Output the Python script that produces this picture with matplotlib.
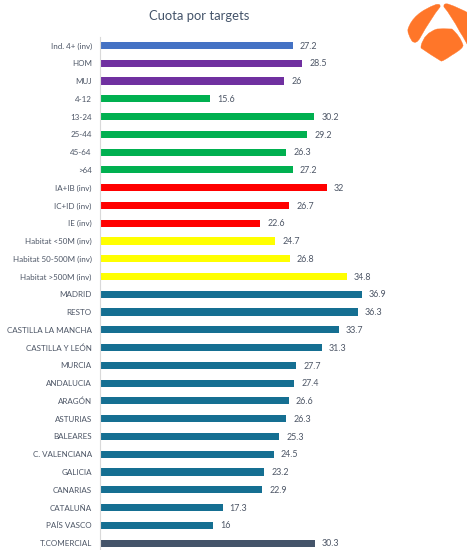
import matplotlib
matplotlib.use('Agg')
import matplotlib.pyplot as plt
from matplotlib.path import Path
from matplotlib.patches import PathPatch

plt.rcParams['font.family'] = ['Lato', 'DejaVu Sans']

labels = ['Ind. 4+ (inv)', 'HOM', 'MUJ', '4-12', '13-24', '25-44', '45-64', '>64',
          'IA+IB (inv)', 'IC+ID (inv)', 'IE (inv)', 'Habitat <50M (inv)',
          'Habitat 50-500M (inv)', 'Habitat >500M (inv)', 'MADRID', 'RESTO',
          'CASTILLA LA MANCHA', 'CASTILLA Y LEÓN', 'MURCIA', 'ANDALUCIA', 'ARAGÓN',
          'ASTURIAS', 'BALEARES', 'C. VALENCIANA', 'GALICIA', 'CANARIAS', 'CATALUÑA',
          'PAÍS VASCO', 'T.COMERCIAL']
values = [27.2, 28.5, 26, 15.6, 30.2, 29.2, 26.3, 27.2, 32, 26.7, 22.6, 24.7, 26.8, 34.8,
          36.9, 36.3, 33.7, 31.3, 27.7, 27.4, 26.6, 26.3, 25.3, 24.5, 23.2, 22.9, 17.3, 16,
          30.3]
colors = ['#4472C4'] + ['#7030A0'] * 2 + ['#00B050'] * 5 + ['#FF0000'] * 3 + ['#FFFF00'] * 3 \
    + ['#156F92'] * 14 + ['#44546A']

W, H = 467, 550
fig = plt.figure(figsize=(W / 100, H / 100), dpi=100)

# axes placed in pixels, row 0 centre at y=45.5, row 28 at y=543
step = 17.77
top = 45.5 - step / 2
bottom = 550
left = 99.5
right = 467
ax = fig.add_axes([left / W, 1 - bottom / H, (right - left) / W, (bottom - top) / H])
ax.barh(range(len(values)), values, height=0.4, color=colors)
ax.set_ylim((bottom - 45.5) / step, -0.5)
ax.set_xlim(0, (right - left) / 7.11)
ax.set_yticks(range(len(labels)))
ax.set_yticklabels(labels, fontsize=5.8, color='#4D5666')
ax.tick_params(axis='y', length=0, pad=5.5)
ax.xaxis.set_visible(False)
for s in ['top', 'right', 'bottom']:
    ax.spines[s].set_visible(False)
ax.spines['left'].set_color('#D9D9D9')
ax.spines['left'].set_linewidth(0.8)
for i, v in enumerate(values):
    ax.annotate(str(v), (v, i), xytext=(5, -0.5), textcoords='offset points',
                va='center', ha='left', fontsize=6.4, color='#4D5666')

fig.text(199.5 / W, 1 - 16.5 / H, 'Cuota por targets', ha='center', va='center',
         fontsize=9.4, color='#44546A')

# logo, in pixel coordinates
lg = fig.add_axes([0, 0, 1, 1], zorder=5)
lg.set_xlim(0, W)
lg.set_ylim(H, 0)
lg.axis('off')
orange = '#FF7629'
shapes = [
    [(408, 29), (413, 13), (436, 4.5), (441, 3.5), (440, 7), (431, 18), (420, 38),
     (416, 45), (412, 41), (407, 33), (408, 29)],
    [(444, 7), (443, 3), (448, 4), (460, 8), (470, 14), (470, 30), (470, 50), (466, 41),
     (460, 32), (451, 15), (444, 7)],
    [(421, 46), (424, 33), (437, 29), (442, 28.5), (452, 29), (460, 36), (463, 45), (464, 48),
     (452, 55), (442, 62), (441, 61), (431, 55), (421, 48), (421, 46)],
]
for pts in shapes:
    codes = [Path.MOVETO] + [Path.CURVE3] * (len(pts) - 1)
    if len(pts) % 2 == 0:
        codes[-1] = Path.LINETO
    lg.add_patch(PathPatch(Path(pts, codes), facecolor=orange, edgecolor=orange, lw=0.3))

fig.savefig('out.png', dpi=100)
